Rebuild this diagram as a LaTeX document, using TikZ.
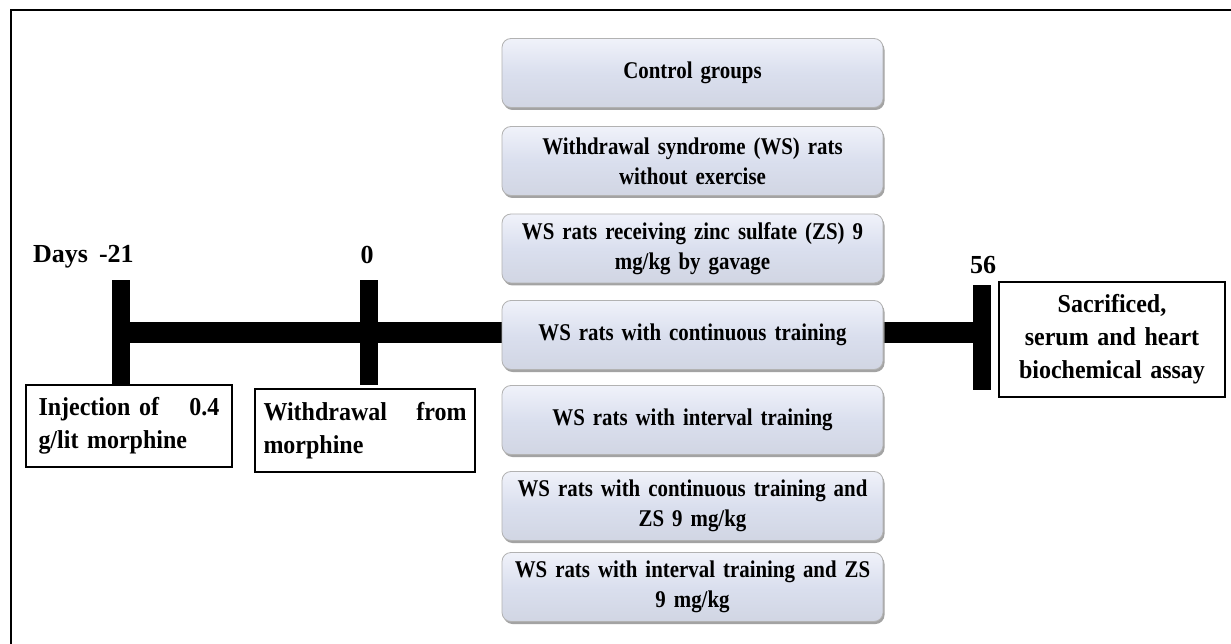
\documentclass[tikz,border=0pt]{standalone}
\usepackage{fontspec}
\setmainfont{Liberation Serif}
\newfontfamily\boxfont[FakeStretch=0.87]{Liberation Serif}
\newfontfamily\labfont[FakeStretch=0.93]{Liberation Serif}
\usetikzlibrary{shadows}
\definecolor{lav}{RGB}{218,223,238}
\definecolor{lavtop}{RGB}{240,242,250}
\begin{document}
\begin{tikzpicture}[x=1pt,y=-1pt,
  grp/.style={rounded corners=9pt, minimum width=381pt, minimum height=69pt,
    text width=372pt, align=center, inner sep=0pt,
    font=\boxfont\fontsize{24}{30}\selectfont\bfseries,
    top color=lavtop, bottom color=lav!90!gray, middle color=lav,
    draw=gray!60, line width=0.8pt,
    drop shadow={shadow xshift=1.5pt, shadow yshift=-2.5pt, fill=gray!80, opacity=0.9}},
  tickbar/.style={fill=black, draw=none, minimum width=18pt, minimum height=105pt, inner sep=0pt},
  lab/.style={draw=black, line width=1.2pt, fill=white, inner sep=0pt,
    font=\labfont\fontsize{25.8}{33}\selectfont\bfseries},
  daylab/.style={font=\fontsize{26}{30}\selectfont\bfseries, inner sep=0pt}
]
\useasboundingbox (0,0) rectangle (1231,644);
\fill[white] (0,0) rectangle (1231,644);
% frame
\draw[line width=2.5pt] (11,644) -- (11,10) -- (1231,10);

% ticks
\node[tickbar] (t1) at (121,332.5) {};
\node[tickbar] (t2) at (368.5,332.5) {};
\node[tickbar] (t3) at (982,337.5) {};
\coordinate (b1) at (t1.center |- 0,332);
\coordinate (b3) at (t3.center |- 0,332);
\draw[line width=21pt] (b1) -- (b3);

% day labels
\node[daylab, anchor=base west] (dl) at (33,263) {Days\hspace{11pt}-21};
\node[daylab, anchor=base] (d0) at (367,264) {0};
\node[daylab, anchor=base] (d56) at (983,274) {56};

% groups
\node[grp] (g1) at (692.5,73) {Control groups};
\node[grp] (g2) at (692.5,161) {Withdrawal\hspace{8pt}syndrome (WS) rats\\without exercise};
\node[grp] (g3) at (692.5,248.5) {WS rats receiving zinc sulfate (ZS) 9\\mg/kg by gavage};
\node[grp] (g4) at (692.5,335) {WS rats with continuous training};
\node[grp] (g5) at (692.5,420) {WS rats with interval training};
\node[grp] (g6) at (692.5,506) {WS rats with continuous training and\\ZS 9 mg/kg};
\node[grp] (g7) at (692.5,587) {WS rats with interval training and ZS\\9 mg/kg};

% label boxes
\node[lab, minimum width=206pt, minimum height=82pt, text width=181pt, align=left] (inj) at (129,426)
  {Injection of\hfill 0.4\\g/lit morphine};
\node[lab, minimum width=220pt, minimum height=83pt, text width=203pt, align=left] (wd) at (365,430.5)
  {Withdrawal\hfill from\\morphine};
\node[lab, minimum width=226pt, minimum height=115pt, text width=220pt, align=center] (sac) at (1112,339.5)
  {Sacrificed,\\serum and heart\\biochemical assay};
\end{tikzpicture}
\end{document}
